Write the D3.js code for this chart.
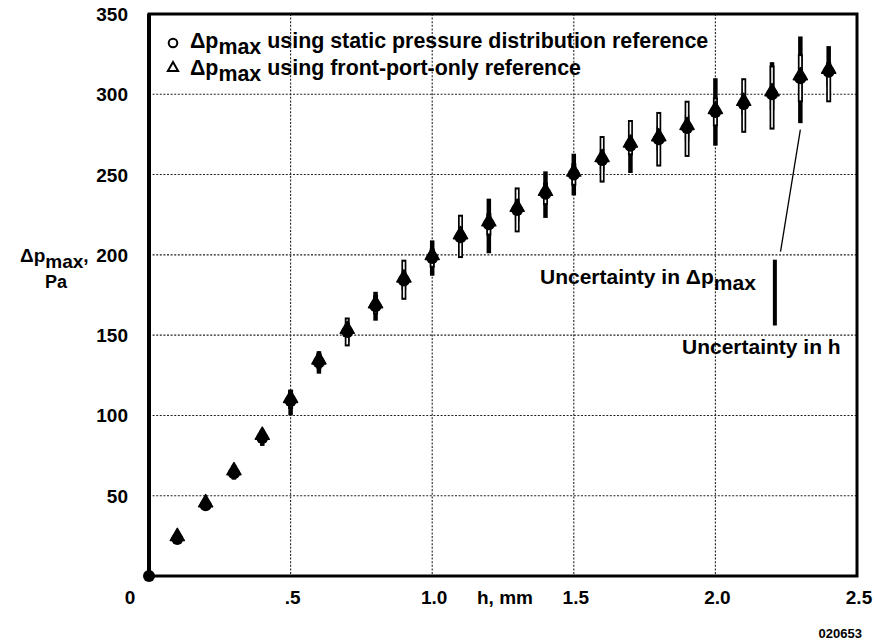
<!DOCTYPE html>
<html>
<head>
<meta charset="utf-8">
<script src="https://cdn.jsdelivr.net/npm/d3@7"></script>
<style>
  body { margin: 0; background: #fff; }
  text { font-family: "Liberation Sans", Arial, Helvetica, sans-serif; font-weight: bold; fill: #000; }
</style>
</head>
<body>
<svg id="chart" width="875" height="642"></svg>
<script>
// Gap height h (mm)
const hValues = [0, 0.1, 0.2, 0.3, 0.4, 0.5, 0.6, 0.7, 0.8, 0.9, 1.0, 1.1, 1.2, 1.3, 1.4, 1.5, 1.6, 1.7, 1.8, 1.9, 2.0, 2.1, 2.2, 2.3, 2.4];

// Δp_max from the static pressure distribution reference (Pa) with its uncertainty band
const dpStatic     = [0, 23, 44, 64, 86, 109, 133, 152, 168, 184, 198, 211, 219, 228, 238, 250, 259, 268, 272, 279, 289, 294, 300, 310, 314];
const dpStaticLow  = [0, 21, 42, 60, 81, 100, 126, 146, 159, 178, 187, 204, 201, 221, 223, 237, 252, 251, 265, 271, 268, 287, 290, 282, 305];
const dpStaticHigh = [0, 25, 46, 68, 91, 116, 140, 158, 177, 190, 209, 218, 235, 235, 252, 263, 266, 272, 280, 287, 310, 301, 320, 336, 330];

// Δp_max from the front-port-only reference (Pa) with its uncertainty band
const dpFront      = [0, 24, 45, 65, 87, 110, 134, 153, 169, 185, 199, 212, 220, 229, 239, 251, 260, 269, 273, 280, 290, 295, 301, 311, 315];
const dpFrontLow   = [0, 22, 43, 61, 83, 104, 129, 143, 163, 172, 192, 198, 212, 214, 231, 243, 245, 262, 255, 261, 280, 276, 278, 295, 295];
const dpFrontHigh  = [0, 26, 47, 69, 91, 116, 139, 161, 175, 197, 204, 225, 226, 242, 245, 257, 274, 284, 289, 296, 298, 310, 318, 325, 320];

// Axis ticks and labels
const xTicks      = [0.5, 1.0, 1.5, 2.0, 2.5];
const xTickLabels = [".5", "1.0", "1.5", "2.0", "2.5"];
const yTicks      = [50, 100, 150, 200, 250, 300, 350];
const xGrid       = [0.5, 1.0, 1.5, 2.0];
const yGrid       = [50, 100, 150, 200, 250, 300];

// Key for the uncertainty bar: sample bar and leader line (data units)
const sampleBarH  = 2.21;
const sampleBarDp = [156, 197];
const leaderFrom  = [2.23, 202];
const leaderTo    = [2.30, 278];

const svg = d3.select("#chart");
const plot = { left: 149, right: 857, top: 14, bottom: 576 };

const x = d3.scaleLinear().domain([0, 2.5]).range([plot.left, plot.right]);
const y = d3.scaleLinear().domain([0, 350]).range([plot.bottom, plot.top]);

// Grid
const grid = svg.append("g")
  .attr("stroke", "#222").attr("stroke-width", 1.1).attr("stroke-dasharray", "2,1.6");
grid.selectAll("line.gx").data(xGrid).join("line")
  .attr("x1", d => x(d)).attr("x2", d => x(d)).attr("y1", plot.top).attr("y2", plot.bottom);
grid.selectAll("line.gy").data(yGrid).join("line")
  .attr("y1", d => y(d)).attr("y2", d => y(d)).attr("x1", plot.left).attr("x2", plot.right);

// Frame
svg.append("rect")
  .attr("x", plot.left).attr("y", plot.top)
  .attr("width", plot.right - plot.left).attr("height", plot.bottom - plot.top)
  .attr("fill", "none").attr("stroke", "#000").attr("stroke-width", 3);
svg.append("line")
  .attr("x1", plot.left).attr("x2", plot.left).attr("y1", plot.top).attr("y2", plot.bottom)
  .attr("stroke", "#000").attr("stroke-width", 4);

// Tick labels
svg.append("g").selectAll("text").data(yTicks).join("text")
  .attr("x", 128).attr("y", d => y(d) + 7)
  .attr("text-anchor", "end").attr("font-size", 19)
  .text(d => d);
svg.append("g").selectAll("text").data(xTicks).join("text")
  .attr("x", d => x(d) + 2).attr("y", 604)
  .attr("text-anchor", "middle").attr("font-size", 19)
  .text((d, i) => xTickLabels[i]);
svg.append("text").attr("x", 130).attr("y", 604)
  .attr("text-anchor", "middle").attr("font-size", 19).text("0");

// Axis titles
svg.append("text").attr("x", 505).attr("y", 604)
  .attr("text-anchor", "middle").attr("font-size", 19).text("h, mm");
const yt = svg.append("text").attr("x", 20).attr("y", 262).attr("font-size", 19);
yt.append("tspan").text("\u0394p");
yt.append("tspan").attr("dy", 6).text("max");
yt.append("tspan").attr("dy", -6).text(",");
svg.append("text").attr("x", 56).attr("y", 288)
  .attr("text-anchor", "middle").attr("font-size", 18).text("Pa");

svg.append("text").attr("x", 862).attr("y", 638)
  .attr("text-anchor", "end").attr("font-size", 13).attr("font-weight", "normal")
  .text("020653");

// Error bars
const rows = hValues.map((h, i) => ({
  h,
  s: dpStatic[i], sLo: dpStaticLow[i], sHi: dpStaticHigh[i],
  f: dpFront[i], fLo: dpFrontLow[i], fHi: dpFrontHigh[i]
}));

const bars = svg.append("g");
bars.selectAll("line.solid").data(rows.filter(d => d.h > 0)).join("line")
  .attr("class", "solid")
  .attr("x1", d => x(d.h)).attr("x2", d => x(d.h))
  .attr("y1", d => y(d.sLo)).attr("y2", d => y(d.sHi))
  .attr("stroke", "#000").attr("stroke-width", 4.5);
bars.selectAll("line.hollowOuter").data(rows.filter(d => d.h > 0)).join("line")
  .attr("class", "hollowOuter")
  .attr("x1", d => x(d.h)).attr("x2", d => x(d.h))
  .attr("y1", d => y(d.fLo)).attr("y2", d => y(d.fHi))
  .attr("stroke", "#000").attr("stroke-width", 5);
bars.selectAll("line.hollowInner").data(rows.filter(d => d.h > 0 && (d.fHi - d.fLo) > 6)).join("line")
  .attr("class", "hollowInner")
  .attr("x1", d => x(d.h)).attr("x2", d => x(d.h))
  .attr("y1", d => y(d.fLo) - 2).attr("y2", d => y(d.fHi) + 2)
  .attr("stroke", "#fff").attr("stroke-width", 1.6);

// Markers
const tri = d3.symbol().type(d3.symbolTriangle).size(85);
const marks = svg.append("g");
marks.selectAll("circle").data(rows).join("circle")
  .attr("cx", d => x(d.h)).attr("cy", d => y(d.s)).attr("r", 6)
  .attr("fill", "#000");
marks.selectAll("path").data(rows.filter(d => d.h > 0)).join("path")
  .attr("d", tri)
  .attr("transform", d => `translate(${x(d.h)},${y(d.f) - 1})`)
  .attr("fill", "#000").attr("stroke", "#000").attr("stroke-width", 1.5).attr("stroke-linejoin", "round");

// Legend
const lg = svg.append("g");
lg.append("circle").attr("cx", 173).attr("cy", 43).attr("r", 4.3)
  .attr("fill", "#fff").attr("stroke", "#000").attr("stroke-width", 2);
lg.append("path").attr("d", d3.symbol().type(d3.symbolTriangle).size(45))
  .attr("transform", "translate(173,68)")
  .attr("fill", "#fff").attr("stroke", "#000").attr("stroke-width", 2);
function subLabel(sel, px, py, tail) {
  const t = sel.append("text").attr("x", px).attr("y", py).attr("font-size", 21.4);
  t.append("tspan").text("\u0394p");
  t.append("tspan").attr("dy", 6).text("max");
  if (tail) t.append("tspan").attr("dy", -6).text(tail);
  return t;
}
subLabel(lg, 190, 48, " using static pressure distribution reference");
subLabel(lg, 190, 75, " using front-port-only reference");

// Uncertainty key
svg.append("line")
  .attr("x1", x(sampleBarH)).attr("x2", x(sampleBarH))
  .attr("y1", y(sampleBarDp[0])).attr("y2", y(sampleBarDp[1]))
  .attr("stroke", "#000").attr("stroke-width", 4);
svg.append("line")
  .attr("x1", x(leaderFrom[0])).attr("y1", y(leaderFrom[1]))
  .attr("x2", x(leaderTo[0])).attr("y2", y(leaderTo[1]))
  .attr("stroke", "#000").attr("stroke-width", 1.3);
const uk = svg.append("text").attr("x", 540).attr("y", 284).attr("font-size", 21);
uk.append("tspan").text("Uncertainty in \u0394p");
uk.append("tspan").attr("dy", 6).text("max");
svg.append("text").attr("x", 682).attr("y", 354).attr("font-size", 21).text("Uncertainty in h");
</script>
</body>
</html>
